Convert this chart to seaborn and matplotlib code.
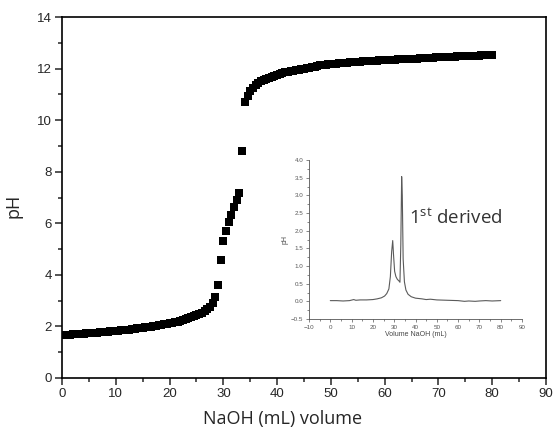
import numpy as np
import pandas as pd
import matplotlib
matplotlib.use("Agg")
import matplotlib.pyplot as plt
from matplotlib.ticker import MultipleLocator
import seaborn as sns

### DATA ###

# Titration curve: NaOH volume (mL), one reading every 0.5 mL
volume = np.arange(0, 80.5, 0.5)
ph = [
    1.65, 1.66, 1.67, 1.68, 1.69, 1.70, 1.70, 1.71, 1.72, 1.73,
    1.74, 1.75, 1.75, 1.76, 1.77, 1.78, 1.79, 1.80, 1.81, 1.82,
    1.83, 1.84, 1.85, 1.86, 1.87, 1.88, 1.89, 1.91, 1.92, 1.93,
    1.95, 1.96, 1.98, 1.99, 2.01, 2.03, 2.04, 2.06, 2.08, 2.10,
    2.12, 2.14, 2.17, 2.19, 2.22, 2.25, 2.28, 2.31, 2.35, 2.39,
    2.43, 2.48, 2.53, 2.59, 2.66, 2.76, 2.92, 3.15, 3.59, 4.56,
    5.31, 5.70, 6.04, 6.32, 6.64, 6.90, 7.19, 8.80, 10.69, 10.95,
    11.12, 11.25, 11.35, 11.43, 11.50, 11.56, 11.61, 11.65, 11.69, 11.73,
    11.76, 11.79, 11.82, 11.85, 11.87, 11.90, 11.92, 11.94, 11.96, 11.98,
    12.00, 12.02, 12.04, 12.06, 12.08, 12.10, 12.12, 12.13, 12.15, 12.16,
    12.17, 12.18, 12.19, 12.20, 12.21, 12.22, 12.23, 12.24, 12.25, 12.26,
    12.26, 12.27, 12.28, 12.28, 12.29, 12.30, 12.30, 12.31, 12.32, 12.32,
    12.33, 12.33, 12.34, 12.35, 12.35, 12.36, 12.36, 12.37, 12.37, 12.38,
    12.38, 12.39, 12.39, 12.40, 12.40, 12.41, 12.41, 12.42, 12.42, 12.43,
    12.43, 12.44, 12.44, 12.45, 12.45, 12.46, 12.46, 12.47, 12.47, 12.48,
    12.48, 12.49, 12.49, 12.50, 12.50, 12.50, 12.51, 12.51, 12.52, 12.52,
    12.53,
]

# First derivative (inset)
deriv_x = [0, 3, 6, 9, 11, 12, 14, 17, 20, 22, 24, 25.5, 26.5, 27.5, 28.2,
           28.8, 29.3, 29.7, 30.2, 30.8, 31.5, 32.2, 32.7, 33.1, 33.5, 33.8,
           34.2, 34.8, 35.5, 36.5, 38, 40, 43, 45, 47, 50, 55, 60, 63, 65,
           68, 70, 73, 76, 80]
deriv_y = [0.02, 0.02, 0.01, 0.02, 0.05, 0.03, 0.04, 0.04, 0.05, 0.07, 0.10,
           0.15, 0.22, 0.35, 0.70, 1.40, 1.72, 1.30, 0.85, 0.70, 0.62, 0.58,
           0.54, 1.60, 3.53, 3.00, 1.20, 0.55, 0.32, 0.20, 0.13, 0.09, 0.07,
           0.05, 0.06, 0.04, 0.03, 0.02, 0.00, 0.01, 0.00, 0.01, 0.02, 0.01,
           0.02]

df = pd.DataFrame({"volume": volume, "pH": ph})
df_d = pd.DataFrame({"volume": deriv_x, "dpH": deriv_y})

### STYLE ###

sns.set_style("ticks")
plt.rcParams["font.family"] = ["Liberation Sans", "DejaVu Sans"]
plt.rcParams["mathtext.fontset"] = "custom"
plt.rcParams["mathtext.rm"] = "Open Sans"

fig = plt.figure(figsize=(5.56, 4.29), dpi=100)

### MAIN PLOT ###

ax = fig.add_axes([62 / 556, 1 - 378 / 429, 484 / 556, 361 / 429])
sns.scatterplot(data=df, x="volume", y="pH", ax=ax, marker="s", s=36,
                color="black", linewidth=0, zorder=3)
ax.set_xlim(0, 90)
ax.set_ylim(0, 14)
ax.xaxis.set_major_locator(MultipleLocator(10))
ax.xaxis.set_minor_locator(MultipleLocator(5))
ax.yaxis.set_major_locator(MultipleLocator(2))
ax.yaxis.set_minor_locator(MultipleLocator(1))
ax.tick_params(which="major", length=5, width=1.1, labelsize=9.5,
               direction="out", pad=2.5)
ax.tick_params(which="minor", length=3, width=1.1, direction="out")
for sp in ax.spines.values():
    sp.set_linewidth(1.2)
    sp.set_color("black")

ax.set_xlabel("NaOH (mL) volume", fontsize=13, family="Open Sans")
ax.set_ylabel("pH", fontsize=13, family="Open Sans")
ax.xaxis.set_label_coords((283 - 62) / 484, -(410 - 378) / 361)
ax.yaxis.set_label_coords(-(62 - 22) / 484, (378 - 206) / 361)

### INSET (1st derivative) ###

ins = fig.add_axes([309 / 556, 1 - 319 / 429, 213 / 556, 159 / 429])
sns.lineplot(data=df_d, x="volume", y="dpH", ax=ins, color="#5a5a5a",
             linewidth=0.8)
ins.set_xlim(-10, 90)
ins.set_ylim(-0.5, 4.0)
ins.xaxis.set_major_locator(MultipleLocator(10))
ins.xaxis.set_minor_locator(MultipleLocator(5))
ins.yaxis.set_major_locator(MultipleLocator(0.5))
ins.yaxis.set_minor_locator(MultipleLocator(0.25))
ins.tick_params(which="major", length=2.5, width=0.5, labelsize=4.5,
                colors="#555555", direction="out", pad=1.5)
ins.tick_params(which="minor", length=1.5, width=0.5, colors="#555555",
                direction="out")
sns.despine(ax=ins)
for sp in ["left", "bottom"]:
    ins.spines[sp].set_linewidth(0.6)
    ins.spines[sp].set_color("#555555")
ins.patch.set_alpha(0)
ins.set_xlabel("Volume NaOH (mL)", fontsize=5, color="#444444", labelpad=1)
ins.set_ylabel("pH", fontsize=5, color="#444444", labelpad=2)

ins.text(36.9, 2.2, r"1$^{\rm st}$ derived", fontsize=13.5, family="Open Sans",
         color="#333333", va="baseline", ha="left")

plt.savefig("out.png", dpi=100)
